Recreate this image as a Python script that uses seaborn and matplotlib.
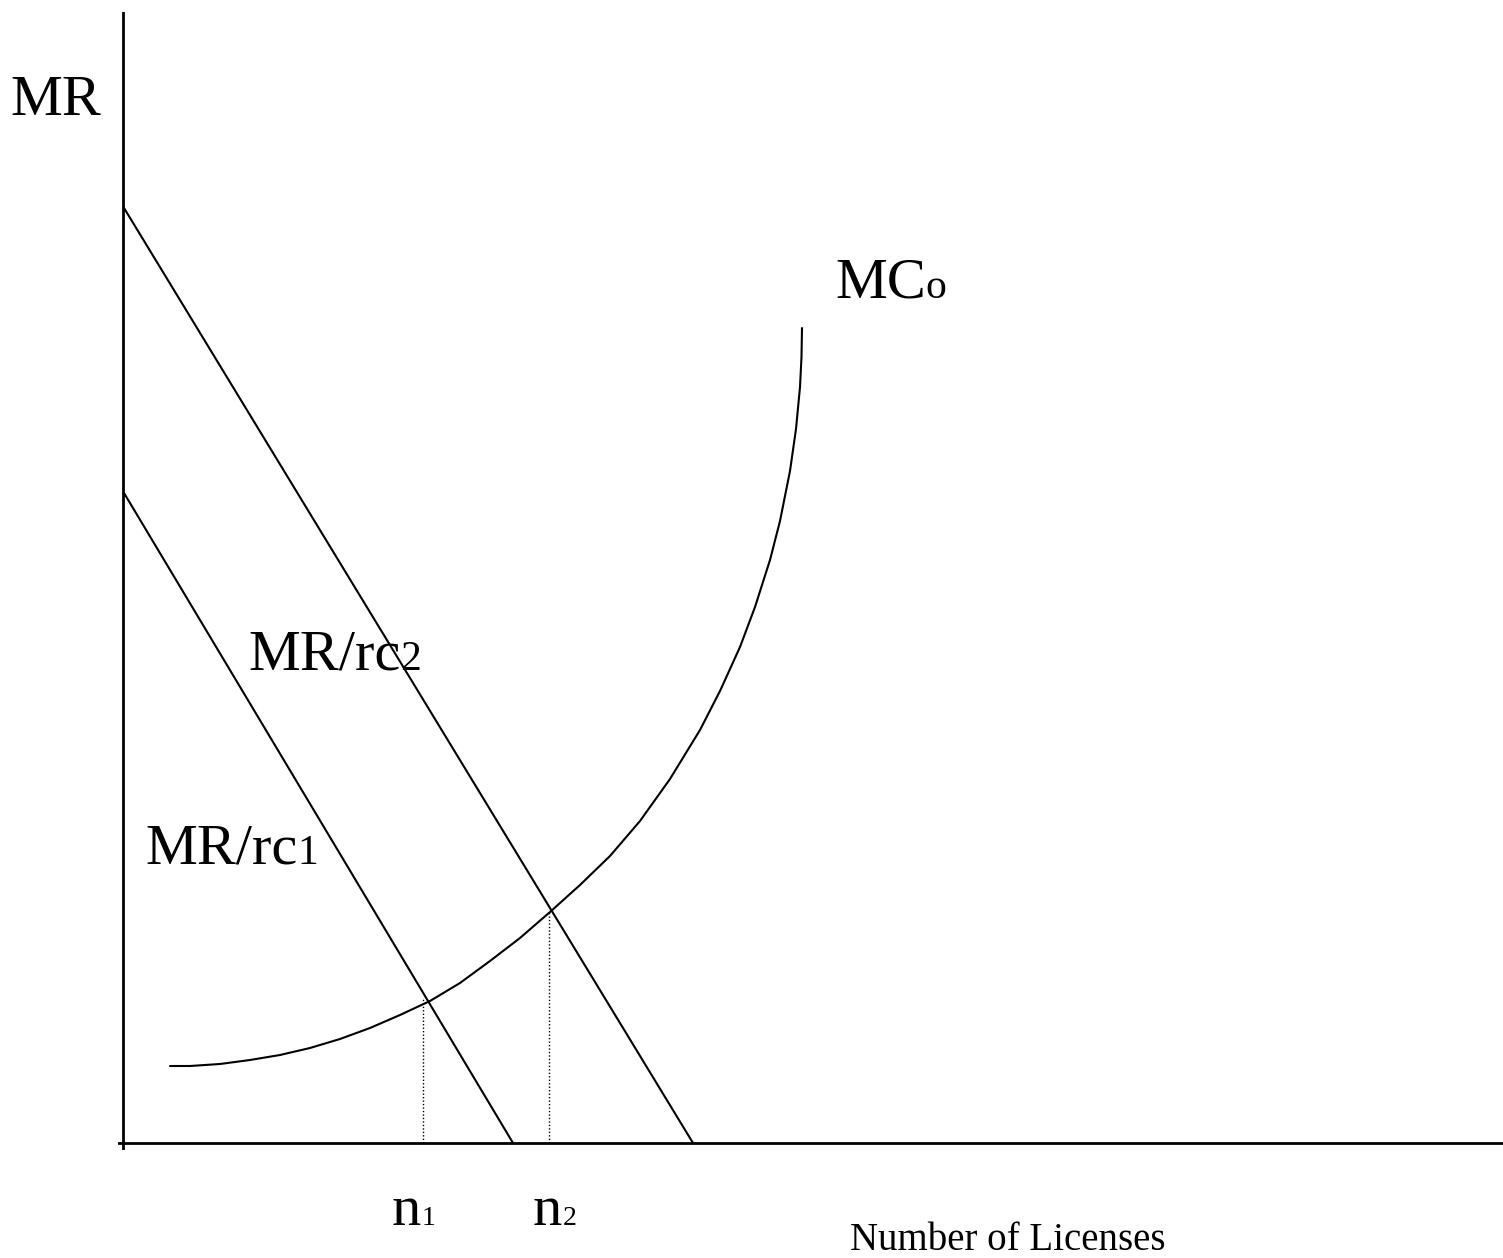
import matplotlib
matplotlib.use("Agg")
import matplotlib.pyplot as plt
import seaborn as sns
import pandas as pd

# curve data, x = number of licenses, y = MR (arbitrary units)
rc2_x = [1, 570]
rc2_y = [935, 0]
rc1_x = [1, 390]
rc1_y = [650, 0]

mc_x = [47, 67, 97, 127, 157, 187, 217, 247, 277, 307, 337, 367, 397, 427, 457, 487,
        517, 547, 577, 597, 617, 632, 647, 657, 667, 673, 677, 678.5, 679]
mc_y = [77, 77, 79, 83, 88, 95, 104, 115, 128, 142, 160, 182, 205, 231, 258, 287,
        322, 364, 413, 452, 496, 536, 583, 622, 672, 714, 756, 786, 815]

n1_x, n1_y = 300, 145
n2_x, n2_y = 426, 231

sns.set_theme(style="white")
plt.rcParams["font.family"] = ["Liberation Serif", "DejaVu Serif"]
plt.rcParams["text.color"] = "black"

W, H = 1503, 1258
fig = plt.figure(figsize=(W / 100, H / 100), dpi=100)
ax = fig.add_axes([118 / W, (H - 1150) / H, (W - 118) / W, (1150 - 12) / H])

lw = 1.5
sns.lineplot(x=rc2_x, y=rc2_y, ax=ax, color="black", lw=lw)
sns.lineplot(x=rc1_x, y=rc1_y, ax=ax, color="black", lw=lw)
mc = pd.DataFrame({"x": mc_x, "y": mc_y})
sns.lineplot(data=mc, x="x", y="y", ax=ax, color="black", lw=lw, sort=False)

# dotted drop lines
ax.vlines([n1_x, n2_x], 0, [n1_y, n2_y], colors="black", linestyles=(0, (1, 1.5)), lw=1.0)

ax.axhline(0, color="black", lw=2)
ax.axvline(0, color="black", lw=2)
ax.set_xlim(-5, W - 123)
ax.set_ylim(-7, 1143 - 12)
for s in ax.spines.values():
    s.set_visible(False)
ax.set_xticks([])
ax.set_yticks([])
ax.set_xlabel("")
ax.set_ylabel("")


def label(px, py, txt, size, sub=None, subsize=None, sub_dx=0):
    t = fig.text(px / W, 1 - py / H, txt, fontsize=size, va="baseline", ha="left")
    if sub:
        fig.canvas.draw()
        bb = t.get_window_extent()
        fig.text((bb.x1 + sub_dx) / W, 1 - py / H, sub, fontsize=subsize, va="baseline", ha="left")


label(10, 115, "MR", 42)
label(835, 298, "MC", 42, "o", 30)
label(248, 670, "MR/rc", 42, "2", 30)
label(145, 864, "MR/rc", 42, "1", 30)
label(392, 1225, "n", 42, "1", 20)
label(533, 1225, "n", 42, "2", 20)
label(850, 1250, "Number of Licenses", 28)

fig.savefig("out.png", dpi=100)
